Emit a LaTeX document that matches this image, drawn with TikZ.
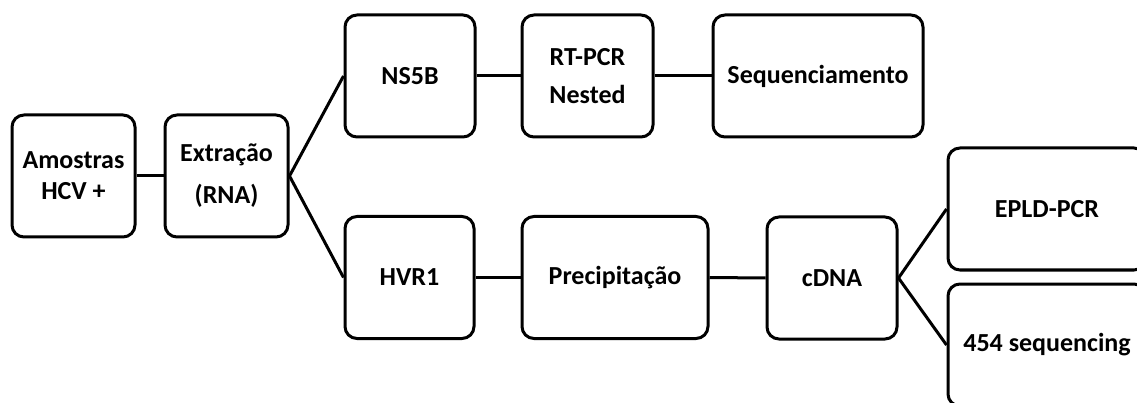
\documentclass[tikz,border=0pt]{standalone}
\usepackage{fontspec}
\setmainfont{Carlito}
\begin{document}
\begin{tikzpicture}[x=1pt,y=-1pt,
  box/.style={draw=black, line width=3pt, rounded corners=12pt, fill=white,
    minimum height=122pt, inner sep=0pt, align=center,
    font=\fontsize{26}{31}\selectfont\bfseries},
  link/.style={draw=black, line width=3pt}]
  \clip (0,0) rectangle (1137,403);
  \fill[white] (0,0) rectangle (1137,403);
  % upstream steps
  \node[box, minimum width=123pt] (amostras) at (73.5,176) {Amostras\\HCV +};
  \node[box, minimum width=123pt] (extracao) at (226.5,176) {Extração\\[11pt](RNA)};
  % NS5B branch
  \node[box, minimum width=130pt] (ns5b) at (410,76) {NS5B};
  \node[box, minimum width=131pt] (rtpcr) at (587.5,76) {RT-PCR\\[7pt]Nested};
  \node[box, minimum width=210pt] (seq) at (818,76) {Sequenciamento};
  % HVR1 branch
  \node[box, minimum width=129pt] (hvr1) at (409.5,277.5) {HVR1};
  \node[box, minimum width=186pt] (prec) at (615,277.5) {Precipitação};
  \node[box, minimum width=130pt] (cdna) at (832,278) {cDNA};
  \node[box, minimum width=198pt] (epld) at (1047,209) {EPLD-PCR};
  \node[box, minimum width=198pt] (s454) at (1047,345) {454 sequencing};
  % connectors
  \draw[link] (amostras.east) -- (extracao.west);
  \draw[link] (extracao.east) -- (ns5b.west);
  \draw[link] (extracao.east) -- (hvr1.west);
  \draw[link] (ns5b.east) -- (rtpcr.west);
  \draw[link] (rtpcr.east) -- (seq.west);
  \draw[link] (hvr1.east) -- (prec.west);
  \draw[link] (prec.east) -- (cdna.west);
  \draw[link] (cdna.east) -- (epld.west);
  \draw[link] (cdna.east) -- (s454.west);
\end{tikzpicture}
\end{document}
